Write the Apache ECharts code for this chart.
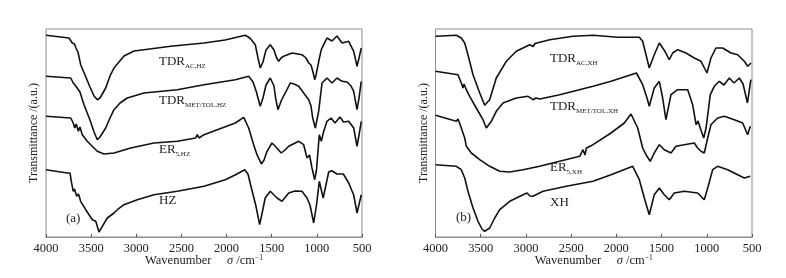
<!DOCTYPE html>
<html>
<head>
<meta charset="utf-8">
<script src="https://cdn.jsdelivr.net/npm/echarts@6/dist/echarts.min.js"></script>
<style>
  html, body { margin: 0; padding: 0; background: #fff; }
  #chart { width: 786px; height: 278px; }
</style>
</head>
<body>
<div id="chart"></div>
<script>
// FTIR spectra: [wavenumber cm-1, transmittance (a.u., stacked offset)]
// panel (a)
var tdrAcHz = [[4000,201.7],[3745,199],[3723,198.5],[3709,194],[3700,192],[3684,193],[3668,189],[3646,185],[3616,172.3],[3568,162],[3513,150],[3468,141],[3432,137.3],[3402,139],[3339,149],[3291,161],[3247,169],[3136,181],[3025,186],[2915,187.3],[2619,190.7],[2250,194],[2017,197],[1793,201.7],[1741,199],[1682,192.3],[1652,179],[1627,169],[1597,175],[1563,187],[1516,192.3],[1475,187],[1445,179],[1423,175.7],[1397,179],[1367,180.7],[1275,184],[1165,182.3],[1120,179],[1090,174],[1065,172],[1043,165],[1024,157.3],[1009,162],[976,177],[951,187.3],[888,199],[832,196],[777,201],[721,194],[647,195.7],[592,185.7],[555,170.7],[533,179],[508,189]];
var tdrMetHz = [[4000,160.7],[3726,159],[3712,157],[3698,154],[3679,155],[3662,150],[3646,152],[3624,145],[3579,132.3],[3513,117],[3468,105],[3432,97.3],[3402,100],[3339,109],[3291,119],[3247,127.3],[3180,134],[3100,139],[2915,144],[2546,147.3],[2250,152.3],[1903,157.3],[1755,160.7],[1707,155],[1672,145.7],[1627,130.7],[1597,139],[1563,152],[1516,159],[1475,151],[1457,139],[1431,127.3],[1391,137],[1331,147.3],[1294,154],[1253,153],[1201,150.7],[1146,144],[1090,137.3],[1065,131],[1046,119],[1017,109],[980,125.7],[943,154],[888,159],[832,154],[777,159],[721,155.7],[666,155],[621,151],[592,145.7],[555,127.3],[533,139],[508,155.7]];
var er5Hz = [[4000,120.7],[3726,119],[3698,114],[3682,109],[3665,113],[3642,105.7],[3624,110],[3598,102.3],[3543,95.7],[3491,91],[3432,85.7],[3358,83],[3247,84],[3062,89],[2804,94],[2546,95.7],[2342,99],[2324,102.3],[2305,99],[2250,102.3],[2051,109],[1903,114],[1810,119.7],[1755,109],[1700,92.3],[1663,82.3],[1615,73],[1585,77],[1552,85.7],[1497,94],[1453,90],[1394,84],[1353,87],[1312,90.7],[1201,95.7],[1146,92.3],[1109,79],[1081,82],[1054,69],[1024,57.3],[1004,67],[973,102.3],[951,95.7],[924,105.7],[888,115.7],[843,119],[799,114],[744,120],[705,115],[647,115.7],[592,109],[555,90.7],[533,102],[508,115.7]];
var hz = [[4000,67.3],[3764,64],[3734,64],[3720,55.7],[3698,45.7],[3685,48],[3660,40.7],[3640,43],[3616,35.7],[3560,27.3],[3487,17.3],[3449,15.7],[3413,5],[3376,10.7],[3321,19],[3247,24],[3210,27.3],[3191,27],[3136,32.3],[2989,37.3],[2804,42.3],[2546,45.7],[2250,50.7],[2014,57.3],[1906,62],[1799,67.3],[1763,63],[1734,52.3],[1678,32.3],[1634,12.3],[1606,24],[1572,39],[1516,45.7],[1475,42],[1441,39],[1386,35.7],[1312,44],[1242,46],[1165,45.7],[1109,39],[1076,32],[1035,14],[1004,32],[973,55.7],[930,39],[869,65],[836,66.3],[777,63],[707,63],[647,54],[592,42],[555,24],[508,42.3]];
// panel (b)
var tdrAcXh = [[4000,200.7],[3770,201.7],[3715,199],[3677,194],[3641,182.3],[3585,162.3],[3511,144],[3456,131.7],[3401,137.3],[3328,159],[3217,175.7],[3107,185.7],[2958,192.3],[2940,193],[2920,190.5],[2900,193.5],[2737,197.3],[2480,200.7],[2258,201.7],[1985,199.7],[1746,199.7],[1709,195.7],[1672,182.3],[1636,169],[1581,182.3],[1525,194],[1463,185.7],[1415,177.3],[1377,184],[1322,187.3],[1230,184],[1138,179],[1064,175.7],[998,164],[954,179],[899,189],[824,189],[732,184],[658,182.3],[585,175.7],[548,170.7],[511,174]];
var tdrMetXh = [[4000,165.7],[3751,162.3],[3715,154],[3696,149],[3685,153],[3659,147.3],[3622,140.7],[3549,129],[3475,117.3],[3438,109],[3383,115.7],[3328,125.7],[3254,134],[3107,139],[2977,140.7],[2922,137.3],[2889,139],[2845,138],[2627,142.3],[2258,150.7],[2059,155.7],[1778,164],[1709,152.3],[1661,139],[1636,130.7],[1581,149],[1525,155.7],[1488,139],[1452,117.3],[1396,142.3],[1322,147.3],[1211,147.3],[1156,132.3],[1119,112.3],[1097,116],[1072,109],[1034,99],[1008,109],[961,142.3],[917,150.7],[862,155.7],[810,152],[751,159],[699,154],[640,159],[599,153],[550,134],[513,157.3]];
var er5Xh = [[4000,121.7],[3770,115.7],[3751,118],[3715,109],[3677,99],[3659,90.7],[3604,84],[3511,77.3],[3401,70.7],[3290,65.7],[3179,65],[3032,67.3],[2848,70.7],[2627,75.7],[2405,80.7],[2369,87.3],[2347,82],[2331,89],[2258,92.3],[2059,104],[1912,114],[1838,123],[1764,109],[1709,89],[1672,82.3],[1625,75.7],[1581,84],[1525,92.3],[1470,87.3],[1396,84],[1341,90.7],[1249,92.3],[1138,94],[1101,89],[1086,91],[1064,85.7],[1028,84],[990,99],[954,112.3],[880,119],[806,120.7],[696,117.3],[603,114],[548,102.3],[519,110.7]];
var xh = [[4000,72.3],[3770,70.7],[3715,67.3],[3677,59],[3641,45.7],[3585,29],[3530,15.7],[3486,8],[3456,5.7],[3401,9],[3345,19],[3290,27.3],[3179,35.7],[3032,42.3],[2988,44],[2955,41],[2922,40.7],[2811,45.7],[2554,50.7],[2258,55.7],[2059,62.3],[1819,70.7],[1746,57.3],[1691,39],[1636,22.3],[1581,42.3],[1525,49],[1470,42.3],[1415,37.3],[1359,44],[1249,45.7],[1101,44],[1028,37.3],[990,49],[935,67.3],[880,70.7],[769,67.3],[658,62.3],[585,59],[519,60.7]];

var panelA = [tdrAcHz, tdrMetHz, er5Hz, hz];
var panelB = [tdrAcXh, tdrMetXh, er5Xh, xh];
var labelsA = [['TDR', 'AC,HZ'], ['TDR', 'MET/TOL,HZ'], ['ER', '5,HZ'], ['HZ', '']];
var labelsB = [['TDR', 'AC,XH'], ['TDR', 'MET/TOL,XH'], ['ER', '5,XH'], ['XH', '']];
var panelTags = ['(a)', '(b)'];

var FONT = 'Liberation Serif';
var chart = echarts.init(document.getElementById('chart'));

function makeX(i) {
  return {
    gridIndex: i,
    type: 'value',
    inverse: true,
    min: 500,
    max: 4000,
    interval: 500,
    axisLine: { show: true, lineStyle: { color: '#8c8c8c', width: 1 } },
    axisTick: { inside: true, length: 3, lineStyle: { color: '#555' } },
    axisLabel: {
      color: '#222', fontFamily: FONT, fontSize: 12.5, margin: 5,
      formatter: function (v) { return String(v); }
    },
    splitLine: { show: false },
    name: 'Wavenumber     {i|σ} /cm{sup|−1}',
    nameLocation: 'middle',
    nameGap: 17,
    nameMoveOverlap: false,
    nameTextStyle: {
      color: '#222', fontFamily: FONT, fontSize: 12.5, lineHeight: 14,
      rich: {
        i: { fontStyle: 'italic', fontFamily: FONT, fontSize: 12.5, color: '#222', lineHeight: 14 },
        sup: { fontFamily: FONT, fontSize: 7.5, color: '#222', verticalAlign: 'top', lineHeight: 8 }
      }
    }
  };
}
function makeY(i) {
  return {
    gridIndex: i,
    type: 'value',
    min: 0,
    max: 208,
    axisLine: { show: false },
    axisTick: { show: false },
    axisLabel: { show: false },
    splitLine: { show: false },
    name: 'Transmittance /(a.u.)',
    nameLocation: 'middle',
    nameGap: 6,
    nameTextStyle: { color: '#222', fontFamily: FONT, fontSize: 12 }
  };
}

var series = [];
panelA.forEach(function (d) {
  series.push({ type: 'line', xAxisIndex: 0, yAxisIndex: 0, data: d, symbol: 'none', lineStyle: { color: '#111', width: 1.6 } });
});
panelB.forEach(function (d) {
  series.push({ type: 'line', xAxisIndex: 1, yAxisIndex: 1, data: d, symbol: 'none', lineStyle: { color: '#111', width: 1.6 } });
});

function labelText(x, y, parts) {
  return {
    type: 'text',
    x: x,
    y: y,
    silent: true,
    style: {
      text: '{m|' + parts[0] + '}' + (parts[1] ? '{s|' + parts[1] + '}' : ''),
      fill: '#222',
      verticalAlign: 'middle',
      rich: {
        m: { fontFamily: FONT, fontSize: 13, fill: '#222', lineHeight: 16 },
        s: { fontFamily: FONT, fontSize: 7, fill: '#222', lineHeight: 7, verticalAlign: 'bottom' }
      }
    }
  };
}

var labelYsA = [62, 101, 150, 201];
var labelYsB = [59, 107, 168, 203];
var graphics = [];
labelsA.forEach(function (p, k) { graphics.push(labelText(159, labelYsA[k], p)); });
labelsB.forEach(function (p, k) { graphics.push(labelText(550, labelYsB[k], p)); });
graphics.push(labelText(66, 219, [panelTags[0], '']));
graphics.push(labelText(456, 218, [panelTags[1], '']));

var option = {
  animation: false,
  backgroundColor: '#fff',
  grid: [
    { left: 46, top: 29, width: 316, height: 208, show: true, borderColor: '#8c8c8c', borderWidth: 1 },
    { left: 435.5, top: 29, width: 316.5, height: 208, show: true, borderColor: '#8c8c8c', borderWidth: 1 }
  ],
  xAxis: [makeX(0), makeX(1)],
  yAxis: [makeY(0), makeY(1)],
  series: series,
  graphic: graphics
};

option && chart.setOption(option);
</script>
</body>
</html>
